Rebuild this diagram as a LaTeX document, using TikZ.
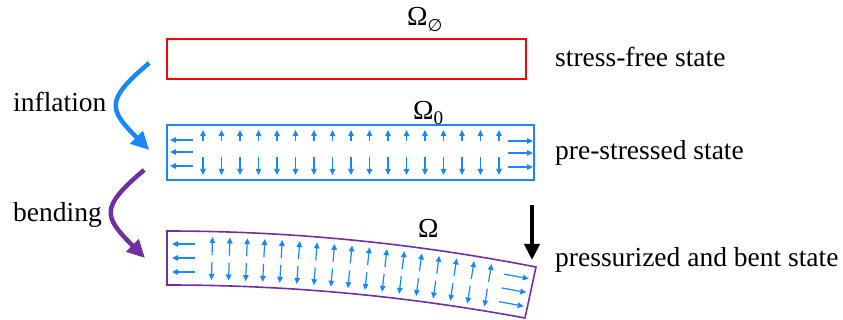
\documentclass[tikz,border=0pt]{standalone}
\usepackage{fontspec}
\setmainfont{Liberation Serif}
\newfontfamily\labelfont{Liberation Serif}
\newfontfamily\glyphfont{DejaVu Sans}
\usepackage{tikz}
\usetikzlibrary{arrows.meta, positioning, calc}

\definecolor{stressblue}{RGB}{25,135,245}
\definecolor{bendpurple}{RGB}{112,48,160}

\begin{document}
\begin{tikzpicture}[
    x=1pt, y=1pt,
    state/.style={draw=#1, line width=1.6pt, inner sep=0pt},
    lbl/.style={inner sep=0pt, font=\labelfont\fontsize{27.5}{33}\selectfont, anchor=base west},
    stressarr/.style={-{Triangle[length=6pt,width=5.5pt]}, stressblue, line width=1.2pt},
    turnarrow/.style={-{Triangle[length=18pt,width=17pt]}, #1, line width=4.5pt, looseness=1.7},
    loadarrow/.style={-{Triangle[length=16pt,width=15pt]}, black, line width=4pt}
]
\useasboundingbox (0,0) rectangle (843,-320);

% the three states
\node[state=red, minimum width=359pt, minimum height=40pt] (free) at (346.5,-59) {};
\node[state=stressblue, minimum width=367pt, minimum height=55pt] (pre) at (350.5,-152.5) {};

\coordinate (tl) at (167,-231);
\coordinate (tr) at (536,-267);
\coordinate (br) at (525,-318);
\coordinate (bl) at (167,-285);
\coordinate (bentmid) at (167,-258);
\draw[bendpurple, line width=1.6pt] (tl) .. controls (290,-231) and (413,-243) .. (tr) -- (br)
    .. controls (405.7,-296) and (290,-285) .. (bl) -- cycle;

% domain labels
\node[lbl] (omfree) at (407,-26) {Ω\raisebox{-6pt}{\glyphfont\fontsize{17}{17}\selectfont ∅}};
\node[lbl] (ompre) at (413,-120) {Ω\textsubscript{0}};
\node[lbl] (ombent) at (418,-238) {Ω};

% state names
\node[lbl] (tfree) at (555,-67) {stress-free state};
\node[lbl] (tpre) at (555,-160) {pre-stressed state};
\node[lbl] (tbent) at (555,-267) {pressurized and bent state};

% steps on the left
\draw[turnarrow=stressblue] ([shift={(-17,-4)}]free.west) to[out=220,in=135] ([shift={(-17,2.5)}]pre.west);
\draw[turnarrow=bendpurple] ([shift={(-22,-17.5)}]pre.west) to[out=220,in=135] ([xshift=-22]bentmid);
\node[lbl] (infl) at (13,-112) {inflation};
\node[lbl] (bend) at (13,-222) {bending};

% load on the tip
\coordinate (load) at (532,-205);
\draw[loadarrow] (load) -- ([shift={(-4,7)}]tr);

% pre-stress in the straight beam
\foreach \i in {0,...,16}{
    \pgfmathsetmacro\xx{203+18.5*\i}
    \draw[stressarr] (\xx,-141) -- (\xx,-130);
    \draw[stressarr] (\xx,-157) -- (\xx,-175);
}
\foreach \yy in {140,152,166}
    \draw[stressarr] (193,-\yy) -- (170,-\yy);
\foreach \yy in {141,153,167}
    \draw[stressarr] (508,-\yy) -- (533,-\yy);

% pre-stress in the bent beam
\foreach \i in {0,...,16}{
    \pgfmathsetmacro\xo{212+17.25*\i}
    \pgfmathsetmacro\s{2*0.0264*(\xo-167)/100}
    \pgfmathsetmacro\n{sqrt(1+\s*\s)}
    \pgfmathsetmacro\yo{258+2.64*((\xo-167)/100)^2}
    \draw[stressarr] (\xo+3.5*\s/\n, -\yo+3.5/\n) -- (\xo+21.5*\s/\n, -\yo+21.5/\n);
    \draw[stressarr] (\xo-3.5*\s/\n, -\yo-3.5/\n) -- (\xo-21.5*\s/\n, -\yo-21.5/\n);
}
\foreach \yy in {244,258,272}
    \draw[stressarr] (195,-\yy) -- (172,-\yy);
\foreach \d in {14,0,-14}{
    \pgfmathsetmacro\s{0.184}
    \pgfmathsetmacro\n{sqrt(1+\s*\s)}
    \draw[stressarr] (514-12.5/\n+\d*\s/\n, -290.2+12.5*\s/\n+\d/\n)
        -- (514+12.5/\n+\d*\s/\n, -290.2-12.5*\s/\n+\d/\n);
}

\end{tikzpicture}
\end{document}
